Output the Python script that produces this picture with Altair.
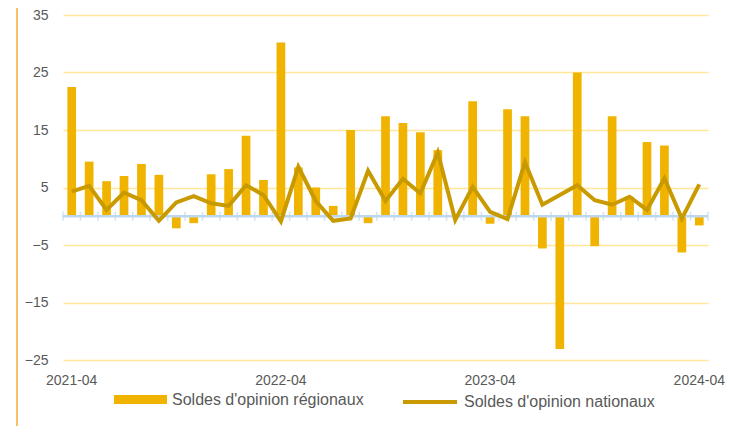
import altair as alt
import pandas as pd

months = [f"{y}-{m:02d}" for y in (2021, 2022, 2023, 2024) for m in range(1, 13)]
months = [m for m in months if "2021-04" <= m <= "2024-04"]

regional = [22.5, 9.5, 6.1, 7.0, 9.1, 7.2, -2.1, -1.2, 7.3, 8.2,
            14.0, 6.3, 30.2, 8.5, 5.0, 1.8, 15.0, -1.2, 17.4, 16.2,
            14.6, 11.5, 0.0, 20.0, -1.3, 18.6, 17.4, -5.6, -23.1, 25.0,
            -5.2, 17.4, 3.4, 12.9, 12.3, -6.3, -1.6]
national = [4.3, 5.3, 1.1, 4.1, 2.8, -0.8, 2.4, 3.5, 2.25, 1.8,
            5.4, 3.7, -0.9, 8.6, 2.65, -0.8, -0.4, 7.9, 2.65, 6.5,
            4.0, 11.1, -0.65, 5.1, 0.75, -0.5, 9.4, 2.0, 3.7, 5.4,
            2.8, 2.0, 3.4, 1.1, 6.6, -0.4, 5.55]

y_ticks = [-25, -15, -5, 5, 15, 25, 35]
x_labels = ["2021-04", "2022-04", "2023-04", "2024-04"]
s_reg = "Soldes d'opinion régionaux"
s_nat = "Soldes d'opinion nationaux"

BAR = "#F0B400"
LINE = "#C99A00"
GRID = "#FFE699"
ZERO = "#BDD7EE"
TXT = "#595959"
FONT = "Liberation Sans"

df = pd.DataFrame({"month": months, "reg": regional, "nat": national,
                   "s1": s_reg, "s2": s_nat})
bounds = pd.DataFrame({"b": list(range(len(months) + 1)), "z": 0})

xs = alt.Scale(domain=months, paddingInner=0.5, paddingOuter=0.25)
ys = alt.Scale(domain=[-25, 35], nice=False, zero=False)

base = alt.Chart(df)

bars = base.mark_bar().encode(
    x=alt.X("month:O", scale=xs, sort=None,
            axis=alt.Axis(values=x_labels, labelAngle=0, title=None, domain=False,
                          ticks=False, tickSize=0, labelPadding=13, grid=False,
                          labelFont=FONT, labelFontSize=14, labelColor=TXT)),
    y=alt.Y("reg:Q", scale=ys,
            axis=alt.Axis(values=y_ticks, title=None, domain=False, ticks=False,
                          tickSize=0, labelPadding=15, grid=True, gridColor=GRID,
                          gridWidth=1.5, labelFont=FONT, labelFontSize=14,
                          labelColor=TXT)),
    fill=alt.Fill("s1:N", scale=alt.Scale(domain=[s_reg], range=[BAR]),
                  legend=alt.Legend(title=None, orient="none", legendX=51, legendY=358,
                                    padding=0, symbolType="M-1,-0.17h2v0.34h-2z",
                                    symbolSize=2809, symbolStrokeWidth=0,
                                    labelFont=FONT, labelFontSize=16, labelColor=TXT,
                                    labelOffset=5, labelLimit=0)),
)

zero_line = alt.Chart(bounds).mark_rule(color=ZERO, strokeWidth=2.5).encode(
    y=alt.Y("mean(z):Q", scale=ys)
)

ticks = alt.Chart(bounds).mark_tick(orient="vertical", color=ZERO, size=9, thickness=1.5).encode(
    x=alt.X("b:Q", scale=alt.Scale(domain=[0, len(months)], nice=False, zero=False), axis=None),
    y=alt.Y("z:Q", scale=ys),
)

line = base.mark_line(strokeWidth=4).encode(
    x=alt.X("month:O", scale=xs, sort=None, axis=None),
    y=alt.Y("nat:Q", scale=ys),
    stroke=alt.Stroke("s2:N", scale=alt.Scale(domain=[s_nat], range=[LINE]),
                      legend=alt.Legend(title=None, orient="none", legendX=338, legendY=358,
                                        padding=0, symbolType="stroke", symbolSize=2916,
                                        symbolStrokeWidth=4,
                                        labelFont=FONT, labelFontSize=16, labelColor=TXT,
                                        labelOffset=5, labelLimit=0)),
)

border = alt.Chart(bounds).mark_rule(color="#F5C26B", strokeWidth=1.5).encode(
    x=alt.value(-46), y=alt.value(-7), y2=alt.value(411)
)

chart = alt.layer(bars, zero_line, ticks, line, border).resolve_scale(
    x="independent"
).properties(
    width=645, height=345,
    autosize=alt.AutoSizeParams(type="none"),
    padding={"left": 55, "top": 7, "right": 17, "bottom": 66},
).configure_view(stroke=None)

chart.save("out.html", embed_options={"renderer": "svg", "actions": False})
